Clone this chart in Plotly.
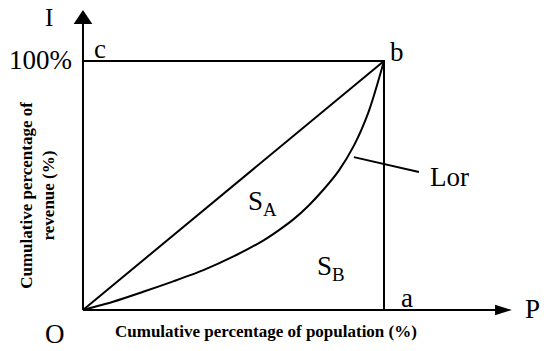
import plotly.graph_objects as go

# Lorenz curve (cumulative % of population vs revenue)
pop_pct = [0, 10, 20, 30, 40, 50, 60, 65, 70, 75, 80, 85, 90, 95, 100]
rev_pct = [0, 3.3, 7.3, 11.5, 16, 21.5, 28, 32, 36.5, 42, 48.5, 56, 66, 80, 100]

# line of perfect equality O-b and the box c-b-a
equal_x = [0, 100]
equal_y = [0, 100]
box_x = [0, 100, 100]
box_y = [100, 100, 0]

SERIF = "Liberation Serif, Times New Roman, serif"
LINE = dict(color="black", width=2)

fig = go.Figure()
fig.add_trace(go.Scatter(x=box_x, y=box_y, mode="lines", line=LINE))
fig.add_trace(go.Scatter(x=equal_x, y=equal_y, mode="lines", line=LINE))
fig.add_trace(go.Scatter(x=pop_pct, y=rev_pct, mode="lines",
                         line=dict(color="black", width=2, shape="spline", smoothing=0.8)))

# axes with arrowheads
fig.add_shape(type="line", x0=0, y0=0, x1=0, y1=115.5, line=LINE)
fig.add_shape(type="line", x0=0, y0=0, x1=137.5, y1=0, line=LINE)
fig.add_shape(type="path", path="M -3.1,114.9 L 0,120.5 L 3.1,114.9 Z",
              fillcolor="black", line=dict(width=0))
fig.add_shape(type="path", path="M 136.9,-2.1 L 142.5,0 L 136.9,2.1 Z",
              fillcolor="black", line=dict(width=0))
# pointer to the Lorenz curve
fig.add_shape(type="line", x0=90.0, y0=61.4, x1=111.6, y1=55.4, line=LINE)


def label(x, y, text, size=27, bold=False):
    if bold:
        text = "<b>" + text + "</b>"
    fig.add_annotation(x=x, y=y, text=text, showarrow=False,
                       font=dict(family=SERIF, size=size, color="black"))


label(-11.3, 117.3, "I", 25)
label(-14.0, 100.4, "100%", 27)
label(5.6, 104.8, "c", 27)
label(104.3, 103.6, "b", 27)
label(121.9, 53.4, "Lor", 27)
label(59.8, 43.0, "S<sub>A</sub>", 27)
label(82.4, 16.9, "S<sub>B</sub>", 27)
label(107.6, 4.8, "a", 27)
label(149.5, 0.5, "P", 27)
label(-9.3, -9.6, "O", 27)
label(60.8, -8.8, "Cumulative percentage of population (%)", 17, bold=True)
fig.add_annotation(x=-15.0, y=46.2, text="<b>Cumulative percentage of<br>revenue (%)</b>",
                   showarrow=False, textangle=-90,
                   font=dict(family=SERIF, size=17, color="black"))

fig.update_layout(
    width=550, height=351,
    margin=dict(l=0, r=0, t=0, b=0),
    paper_bgcolor="white", plot_bgcolor="white",
    showlegend=False,
    xaxis=dict(range=[-27.57, 155.15], visible=False, fixedrange=True),
    yaxis=dict(range=[-16.47, 124.5], visible=False, fixedrange=True),
)

# drop the browser's default page margin so the figure sits at the top-left corner
fig.write_html("out.html", config={"displayModeBar": False},
               post_script="document.body.style.margin = '0';")
